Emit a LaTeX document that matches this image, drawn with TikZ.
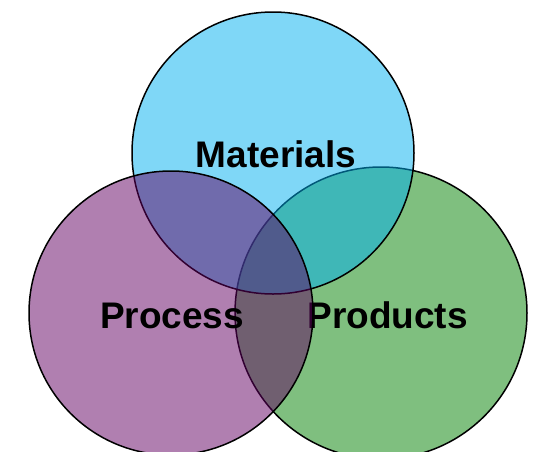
\documentclass[tikz,border=0pt]{standalone}
\usepackage{fontspec}
\setmainfont{Liberation Sans}
\usetikzlibrary{calc}
\definecolor{prodgreen}{RGB}{0,128,0}
\definecolor{matblue}{RGB}{0,176,240}
\definecolor{procpurple}{RGB}{98,0,98}
\tikzset{
  setdisc/.style={draw=black, line width=1.5pt, fill opacity=0.5},
  setlabel/.style={font=\bfseries\fontsize{37}{40}\selectfont, inner sep=0pt, anchor=base}
}

\begin{document}
\begin{tikzpicture}[x=1pt,y=-1pt]
\useasboundingbox (0,0) rectangle (536,451);
\clip (0,0) rectangle (536,451);
% green set first, then blue, then purple on top
\coordinate (cprod) at (381,313);
\coordinate (cmat) at (273,153);
\coordinate (cproc) at (171,313);
\draw[setdisc, fill=prodgreen] (cprod) circle[radius=146pt];
\node[setlabel] (products) at (387.5,328) {Products};
\draw[setdisc, fill=matblue] (cmat) circle[radius=141pt];
\node[setlabel] (materials) at (276,167) {Materials};
\draw[setdisc, fill=procpurple] (cproc) circle[radius=142pt];
\node[setlabel] (process) at (172,328) {Process};
\end{tikzpicture}
\end{document}
